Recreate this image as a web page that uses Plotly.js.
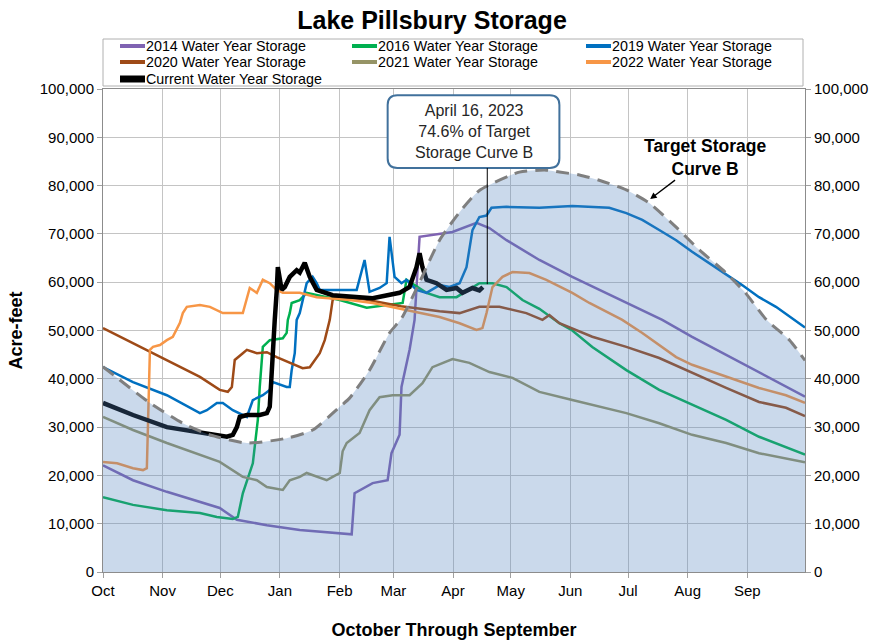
<!DOCTYPE html>
<html>
<head>
<meta charset="utf-8">
<script src="https://cdn.plot.ly/plotly-3.0.1.min.js"></script>
<style>html,body{margin:0;padding:0;background:#fff;}#chart{width:879px;height:641px;}</style>
</head>
<body>
<div id="chart"></div>
<script>
// x = day of water year (0 = Oct 1)
const monthLabels = ["Oct","Nov","Dec","Jan","Feb","Mar","Apr","May","Jun","Jul","Aug","Sep"];
const monthStartDays = [0,31,61,92,123,151,182,212,243,273,304,335];

const targetDays = [0,24.4,41.5,55.6,74.8,95.5,109,123.1,128.2,138.6,149,155.2,164.6,175,185.4,195.7,216.5,230.5,237.3,247.7,258,272.1,284,298,310,324,334,345,357,365];
const targetVals = [42500,35000,30800,28400,26700,27700,29400,34200,36000,41800,49500,52500,60000,68700,74500,79000,82800,83200,82800,82200,81100,79100,76400,71400,66700,61900,57800,52200,48000,43800];

const wy2014Days = [0,15.6,33.2,50.4,60.7,69.6,85.2,102.3,123.1,129.3,130.8,140.2,148,150,154.2,155.2,159.4,162,164.6,181.7,194.2,200.9,209.8,226.9,244,290.8,306.3,365];
const wy2014Vals = [22100,19000,16600,14500,13250,10800,9700,8700,8000,7800,16300,18400,19000,24600,28400,38300,46000,52200,69400,70400,72300,71200,68700,64600,61100,52200,48700,36300];

const wy2016Days = [0,15.6,33.2,50.4,59.2,67.5,70.1,72.7,77.9,80.5,81.5,83.1,86.7,93.5,95.5,96.1,97.1,98.1,102.3,105.9,123.1,137.1,155.8,157.8,168.2,175,183.8,195.7,202.5,209.8,218.1,226.9,237.3,244,254.4,272.1,289.2,306.3,324,341.1,365];
const wy2016Vals = [15500,13900,12800,12200,11400,11000,11400,16300,22500,31500,38300,46600,48000,48400,49500,52200,53600,55700,56300,57800,56300,54700,55700,60500,57800,56900,56900,59800,59800,59000,56300,54500,51500,50000,46600,41800,37700,34600,31500,28000,24300];

const wy2019Days = [0,15.6,33.2,50.4,54,55.6,59.2,62.3,67.5,74.8,77.9,83.1,86.7,88.3,95.5,97.1,98.1,99.7,100.7,102.3,103.8,105.9,109,111.1,112.7,123.1,131.9,136,138.6,143.8,147.5,149,151.6,155.2,157.8,163,168.2,175,180.2,185.4,189,192.1,195.7,199.4,202,209.8,226.9,244,254.4,263.2,272.1,280.4,289.2,298,306.3,315.1,324,332.3,341.1,349.9,365];
const wy2019Vals = [42400,39300,36600,32900,33500,34000,35000,35000,33500,32100,35600,36600,37700,39300,38300,38300,41800,45300,52200,53600,56300,59800,61100,59800,58400,58400,58400,64600,58000,58800,59800,69400,61100,59800,60500,58400,57800,59400,59000,59800,63100,70800,73500,73800,75400,75600,75400,75800,75600,75400,74300,72900,70800,68700,66300,64000,61500,59400,56900,54900,50600];

const wy2020Days = [0,15.6,33.2,50.4,60.7,64.9,67,68.5,72.7,74.8,80,85.2,90.3,97.1,103.8,107.5,112.7,115.3,117.9,119.4,121,135,155,175,185.4,195.7,206.1,220.1,228.5,232.1,237.3,254.4,272.1,289.2,306.3,324,341.1,355.1,365];
const wy2020Vals = [50500,47400,43900,40400,37700,37300,38300,43900,45300,46000,45300,45500,44500,43300,42200,42400,45300,48000,52200,56300,57000,56500,55000,54000,53600,54900,54900,53600,52200,53200,51500,48700,46600,44300,41200,38100,35200,34000,32300];

const wy2021Days = [0,15.6,33.2,50.4,60.7,72.7,80,85.2,93.5,97.1,102.3,105.9,116.3,119.4,123.1,124.6,126.7,133.4,138.6,143.8,150.6,159.4,166.1,171.3,181.7,190.5,200.9,212.9,226.9,244,254.4,272.1,289.2,306.3,324,341.1,365];
const wy2021Vals = [32100,29400,26700,24200,22800,19700,19000,17600,17000,19000,19700,20500,19000,19700,20500,25000,26700,28800,33500,36200,36600,36600,39100,42400,44100,43300,41400,40200,37300,35600,34600,32900,30800,28400,26700,24600,22700];

const wy2022Days = [0,7.3,15.6,20.8,22.8,24.4,26,29.6,33.2,36.3,40,41.5,43.6,50.4,55.6,62.3,72.7,76.3,80,83.1,86.7,90.3,93.5,102.3,111.1,128.2,140.2,157.8,175,185.4,194.2,197.3,199.4,202.5,207.7,212.9,221.7,230.5,244,252.9,270,280.4,298,306.3,324,341.1,355.1,365];
const wy2022Vals = [22800,22500,21500,21100,21500,46000,46600,47000,48000,48700,51600,53600,54900,55300,54900,53600,53600,58800,57800,60500,59800,58400,57800,57800,56900,56300,55700,54200,52800,51500,50100,50500,53600,59000,61100,62100,61900,60500,57800,55700,52200,49500,44500,42900,40400,38100,36600,35000];

const currentDays = [0,15.6,33.2,50.4,64.4,67.5,69.6,71.1,74.8,81.5,85.2,86.7,87.7,88.3,89.3,90.3,90.9,92.9,94.5,97.1,100.7,102.3,104.9,107.5,111.1,119.4,128.2,140.2,154.2,159.4,163,164.6,166.1,168.2,173.4,178.6,183.8,186.9,192.1,195.7,197.5];
const currentVals = [35000,32500,30000,28800,28000,28400,30000,32100,32500,32500,32900,34200,41800,48700,52200,58000,63100,58400,59000,61100,62500,62000,64000,61100,58400,57300,57000,56700,57800,59000,63100,66000,63100,60500,59800,58400,58800,57800,58800,58300,59000];

const seriesNames = ["2014 Water Year Storage","2016 Water Year Storage","2019 Water Year Storage","2020 Water Year Storage","2021 Water Year Storage","2022 Water Year Storage","Current Water Year Storage"];
const seriesColors = ["#7f63b2","#00b050","#0070c0","#9e4a17","#969466","#f79646","#000000"];

const FONT = "Liberation Sans, Arial, sans-serif";
const seriesData = [[wy2014Days, wy2014Vals],[wy2016Days, wy2016Vals],[wy2019Days, wy2019Vals],[wy2020Days, wy2020Vals],[wy2021Days, wy2021Vals],[wy2022Days, wy2022Vals],[currentDays, currentVals]];
const lineWidths = [2.5,2.5,2.5,2.5,2.5,2.5,4.5];

const traces = seriesData.map((s, i) => ({
  type: "scatter", mode: "lines", x: s[0], y: s[1], name: seriesNames[i],
  line: {color: seriesColors[i], width: lineWidths[i]}, hoverinfo: "skip", showlegend: false
}));
traces.push({
  type: "scatter", mode: "lines", x: targetDays, y: targetVals, name: "Target Storage Curve B",
  fill: "tozeroy", fillcolor: "rgba(79,129,189,0.30)", line: {color: "#7f7f7f", width: 3, dash: "13px,8px", shape: "spline", smoothing: 0.6},
  showlegend: false, hoverinfo: "skip"
});
traces.push({
  type: "scatter", mode: "lines", x: targetDays, y: targetVals, yaxis: "y2",
  line: {color: "rgba(0,0,0,0)", width: 0}, showlegend: false, hoverinfo: "skip"
});

// ---- custom legend (paper coords; plot area is 702 x 483 px) ----
const PW = 702, PH = 483;
const colX = [120, 352, 586].map(px => (px - 103) / PW);
const rowY = [46, 62, 79].map(py => 1 + (89 - py) / PH);
const symLen = 25 / PW;
const shapes = [
  {type: "rect", xref: "paper", yref: "paper", x0: 0, x1: 700 / PW, y0: 1 + 3 / PH, y1: 1 + 50 / PH,
   fillcolor: "#ffffff", line: {color: "#b0b0b0", width: 1}, layer: "above"}
];
const annotations = [];
seriesNames.forEach((nm, i) => {
  const cx = colX[i % 3], cy = rowY[Math.floor(i / 3)];
  shapes.push({type: "line", xref: "paper", yref: "paper", x0: cx, x1: cx + symLen, y0: cy, y1: cy,
    line: {color: seriesColors[i], width: i === 6 ? 7 : 4}, layer: "above"});
  annotations.push({xref: "paper", yref: "paper", x: cx + symLen, y: cy, xanchor: "left", yanchor: "middle",
    showarrow: false, text: nm, font: {family: FONT, size: 14.3, color: "#000"}, xshift: -1});
});

// annotation box geometry (data coords)
const bx0 = 148, bx1 = 237.3, by0 = 83650, by1 = 98700, rx = 5, ry = 2000;
const boxPath = `M ${bx0+rx},${by1} L ${bx1-rx},${by1} Q ${bx1},${by1} ${bx1},${by1-ry} L ${bx1},${by0+ry} Q ${bx1},${by0} ${bx1-rx},${by0} L ${bx0+rx},${by0} Q ${bx0},${by0} ${bx0},${by0+ry} L ${bx0},${by1-ry} Q ${bx0},${by1} ${bx0+rx},${by1} Z`;
shapes.push({type: "path", xref: "x", yref: "y", path: boxPath, fillcolor: "#ffffff", line: {color: "#41719c", width: 2}, layer: "above"});
shapes.push({type: "line", xref: "x", yref: "y", x0: 199.8, x1: 199.8, y0: 59600, y1: by0, line: {color: "#000", width: 1}, layer: "above"});
annotations.push({x: (bx0 + bx1) / 2, y: (by0 + by1) / 2, xref: "x", yref: "y", showarrow: false,
  text: "April 16, 2023<br>74.6% of Target<br>Storage Curve B", font: {family: FONT, size: 16, color: "#262626"}, align: "center"});
annotations.push({x: 284.5, y: 77200, xref: "x", yref: "y", ax: 55, ay: -42, showarrow: true, arrowhead: 2, arrowsize: 1, arrowwidth: 1.3, arrowcolor: "#000",
  text: "<b>Target Storage<br>Curve B</b>", font: {family: FONT, size: 17.5, color: "#000"}, align: "center"});

const layout = {
  width: 879, height: 641,
  margin: {l: 103, r: 74, t: 89, b: 69},
  paper_bgcolor: "#ffffff", plot_bgcolor: "#ffffff",
  font: {family: FONT, color: "#000000"},
  title: {text: "<b>Lake Pillsbury Storage</b>", font: {family: FONT, size: 25, color: "#000"}, x: 0.4915, xref: "container", xanchor: "center", y: 0.968, yref: "container", yanchor: "middle"},
  showlegend: false,
  xaxis: {range: [0, 365], tickvals: monthStartDays, ticktext: monthLabels, showgrid: true, gridcolor: "#c4c4c4", gridwidth: 1,
    ticks: "outside", ticklen: 5, tickcolor: "#a0a0a0", showline: true, linecolor: "#8c8c8c", mirror: true, zeroline: false,
    tickfont: {family: FONT, size: 15, color: "#000"},
    title: {text: "<b>October Through September</b>", font: {family: FONT, size: 18, color: "#000"}, standoff: 25}},
  yaxis: {range: [0, 100000], dtick: 10000, tickformat: ",d", showgrid: true, gridcolor: "#c4c4c4", gridwidth: 1,
    ticks: "outside", ticklen: 5, tickcolor: "#a0a0a0", showline: true, linecolor: "#8c8c8c", zeroline: false,
    tickfont: {family: FONT, size: 15, color: "#000"},
    title: {text: "<b>Acre-feet</b>", font: {family: FONT, size: 18, color: "#000"}, standoff: 12}},
  yaxis2: {range: [0, 100000], dtick: 10000, tickformat: ",d", overlaying: "y", side: "right", showgrid: false,
    ticks: "outside", ticklen: 5, tickcolor: "#a0a0a0", showline: true, linecolor: "#8c8c8c", zeroline: false,
    tickfont: {family: FONT, size: 15, color: "#000"}},
  shapes: shapes,
  annotations: annotations
};

Plotly.newPlot("chart", traces, layout, {staticPlot: true, displayModeBar: false});
</script>
</body>
</html>
